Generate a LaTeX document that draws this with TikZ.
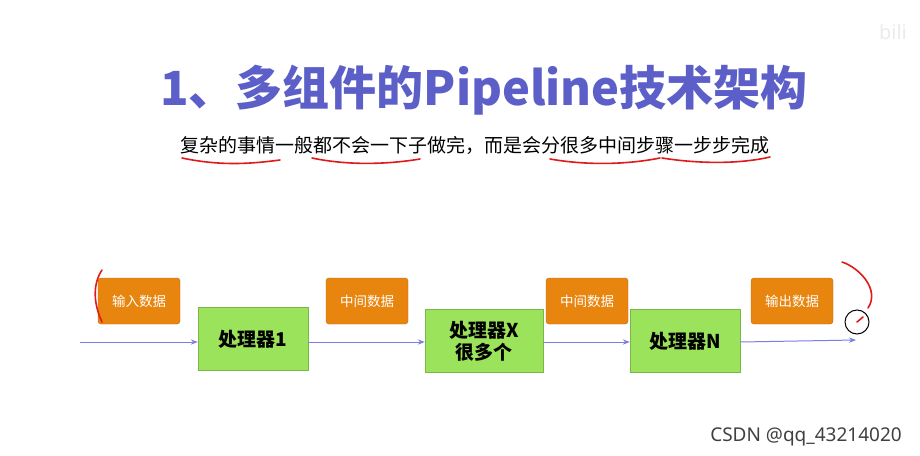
\documentclass[tikz,border=0pt]{standalone}
\usepackage{fontspec}
\newfontfamily\cjk{Noto Sans CJK SC}
\setmainfont{Noto Sans}
\usetikzlibrary{arrows.meta}
\definecolor{ttl}{HTML}{5B5FC7}
\definecolor{org}{HTML}{E8850F}
\definecolor{grn}{HTML}{9BE35A}
\definecolor{arr}{HTML}{7B7FE0}
\definecolor{rd}{HTML}{E01A1A}
\begin{document}
\begin{tikzpicture}[x=1pt,y=-1pt,
  databox/.style={draw=org!80!black,fill=org,rounded corners=3pt,text=white,font=\cjk\fontsize{13.5}{15}\selectfont,minimum width=82pt,minimum height=46pt},
  procbox/.style={draw=grn!80!black,fill=grn,text=black,font=\cjk\bfseries\fontsize{19}{22}\selectfont,minimum width=110pt,minimum height=63pt,align=center},
  flow/.style={draw=arr,line width=1pt,-{Stealth[length=7pt]}},
  redmark/.style={draw=rd,line width=1.6pt,line cap=round}]
\useasboundingbox (0,0) rectangle (920,455);
\fill[white] (0,0) rectangle (920,455);
\node[text=black!8,font=\bfseries\fontsize{20}{20}\selectfont] (bili) at (893,32) {bili};
\node[text=ttl,font=\cjk\bfseries\fontsize{47}{54}\selectfont] (title) at (484,90) {1、多组件的Pipeline技术架构};
\node[font=\cjk\fontsize{19}{22}\selectfont] (sub) at (475,145) {复杂的事情一般都不会一下子做完，而是会分很多中间步骤一步步完成};
\draw[redmark] (182,158) .. controls (220,166) and (250,164) .. (280,160);
\draw[redmark] (312,158) .. controls (350,166) and (390,164) .. (420,159);
\draw[redmark] (550,159) .. controls (590,166) and (630,164) .. (660,158);
\draw[redmark] (662,158) .. controls (700,164) and (740,164) .. (770,157);
\node[databox] (in) at (139,301) {输入数据};
\node[databox] (m1) at (367,301) {中间数据};
\node[databox] (m2) at (587,301) {中间数据};
\node[databox] (out) at (792,301) {输出数据};
\node[procbox] (p1) at (253,339) {处理器1};
\node[procbox,minimum width=118pt] (px) at (484,341) {处理器X\\很多个};
\node[procbox] (pn) at (685,341) {处理器N};
\coordinate (s) at (80,342);
\coordinate (e) at (856,340);
\draw[flow] (s) -- (s -| p1.west);
\draw[flow] (p1.east |- 0,342) -- (px.west |- 0,342);
\draw[flow] (px.east |- 0,342) -- (pn.west |- 0,342);
\draw[flow] (pn.east |- 0,342) -- (e);
\node[draw=black,line width=1pt,circle,minimum size=24pt,inner sep=0pt] (c) at (857,322) {};
\draw[redmark] (c.center) -- ++(6,-5);
\draw[redmark] (102,270) .. controls (92,285) and (94,305) .. (102,322);
\draw[redmark] (842,262) .. controls (860,268) and (880,290) .. (868,308);
\node[text=black!75,font=\fontsize{19}{20}\selectfont] (wm) at (806,437) {CSDN @qq\_43214020};
\end{tikzpicture}
\end{document}
